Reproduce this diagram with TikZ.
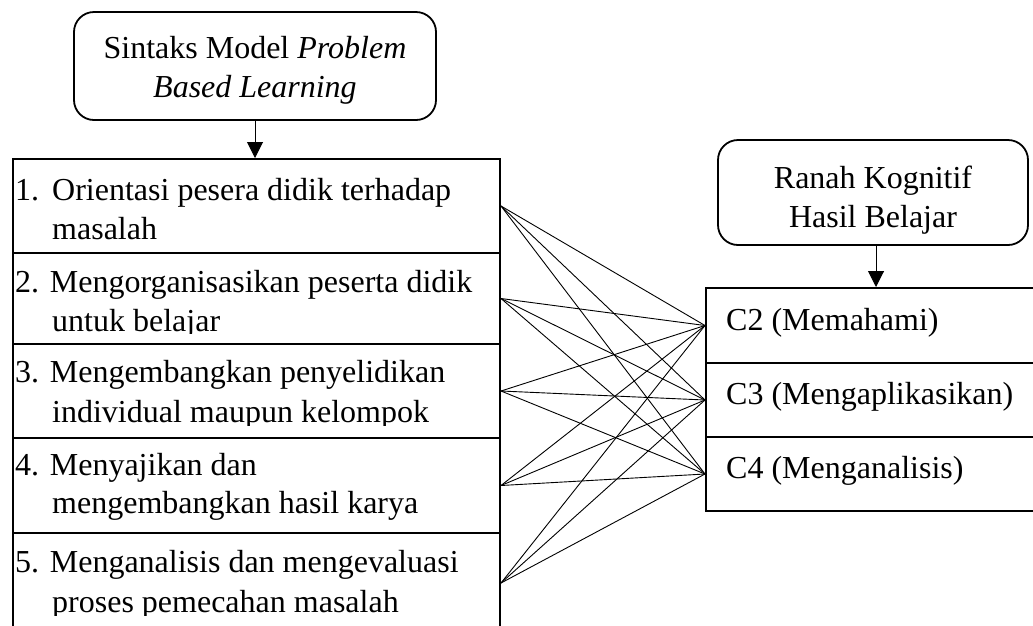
\documentclass[tikz,border=0pt]{standalone}
\usepackage{fontspec}
\setmainfont{Liberation Serif}
\usetikzlibrary{arrows.meta}
\begin{document}
\begin{tikzpicture}[x=1pt,y=1pt,
  every node/.style={font=\fontsize{32}{39}\selectfont},
  cell/.style={draw,line width=2pt,rectangle,inner sep=0pt,anchor=north west},
  rbox/.style={draw,line width=1.8pt,rounded corners=20pt,align=center,inner sep=0pt},
  txt/.style={anchor=base west,inner sep=0pt},
  link/.style={line width=0.9pt},
  arr/.style={line width=1pt,-{Triangle[width=16pt,length=16pt]}}]
\clip (0,0) rectangle (1033,-625);
% rounded header boxes
\node[rbox,minimum width=362pt,minimum height=108pt] (title) at (255,-66)
  {\rule{0pt}{30pt}Sintaks Model \textit{Problem}\\\textit{Based Learning}};
\node[rbox,minimum width=310pt,minimum height=105pt] (ranah) at (873,-192.5)
  {\rule{0pt}{37pt}Ranah Kognitif\\Hasil Belajar};
% left cells
\node[cell,minimum width=487pt,minimum height=94pt] (r1) at (12,-158) {};
\node[cell,minimum width=487pt,minimum height=91pt] (r2) at (12,-252) {};
\node[cell,minimum width=487pt,minimum height=94pt] (r3) at (12,-343) {};
\node[cell,minimum width=487pt,minimum height=95pt] (r4) at (12,-437) {};
\node[cell,minimum width=487pt,minimum height=100pt] (r5) at (12,-532) {};
% right cells
\node[cell,minimum width=340pt,minimum height=75pt] (c2) at (705,-287) {};
\node[cell,minimum width=340pt,minimum height=74pt] (c3) at (705,-362) {};
\node[cell,minimum width=340pt,minimum height=74pt] (c4) at (705,-436) {};
% links
\foreach \i in {1,...,5}{
  \foreach \j in {2,3,4}{
    \draw[link] (r\i.east) -- (c\j.west);
  }
}
% arrows
\draw[arr] (title.south) -- (title.south |- r1.north);
\draw[arr] (c2.north |- ranah.south) -- (c2.north);
% left texts
\node[txt] (n1) at (15,-200) {1.};
\node[txt] (t1a) at (52,-200) {Orientasi pesera didik terhadap};
\node[txt] (t1b) at (52,-239) {masalah};
\node[txt] (t2a) at (15,-292) {2. Mengorganisasikan peserta didik};
\begin{scope}
  \clip (12,-252) rectangle (499,-333);
  \node[txt] (t2b) at (52,-331) {untuk belajar};
\end{scope}
\node[txt] (t3a) at (15,-382) {3. Mengembangkan penyelidikan};
\begin{scope}
  \clip (12,-343) rectangle (499,-425);
  \node[txt] (t3b) at (52,-422) {individual maupun kelompok};
\end{scope}
\node[txt] (t4a) at (15,-475) {4. Menyajikan dan};
\node[txt] (t4b) at (52,-513) {mengembangkan hasil karya};
\node[txt] (t5a) at (15,-572) {5. Menganalisis dan mengevaluasi};
\begin{scope}
  \clip (12,-532) rectangle (499,-615);
  \node[txt] (t5b) at (52,-612) {proses pemecahan masalah};
\end{scope}
% right texts
\node[txt] (tc2) at (726,-330) {C2 (Memahami)};
\node[txt] (tc3) at (726,-404) {C3 (Mengaplikasikan)};
\node[txt] (tc4) at (726,-478) {C4 (Menganalisis)};
\end{tikzpicture}
\end{document}
